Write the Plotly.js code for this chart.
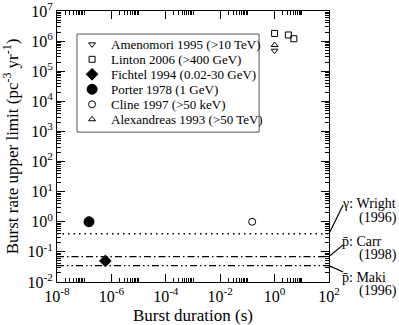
<!DOCTYPE html>
<html>
<head>
<meta charset="utf-8">
<script src="https://cdn.plot.ly/plotly-3.0.1.min.js"></script>
<style>
  html, body { margin: 0; padding: 0; background: #fff; }
  #chart { width: 399px; height: 325px; }
</style>
</head>
<body>
<div id="chart"></div>
<script>
// burst rate limits vs burst duration

const FONT = 'Liberation Serif, Times New Roman, serif';

// point measurements (duration in s, rate in pc^-3 yr^-1)
const amenomoriX = [1];
const amenomoriY = [4.8e5];
const lintonX = [1, 3.2, 5.1];
const lintonY = [1.8e6, 1.6e6, 1.2e6];
const fichtelX = [6e-7];
const fichtelY = [0.05];
const porterX = [1.5e-7];
const porterY = [1];
const clineX = [0.15];
const clineY = [1];
const alexandreasX = [1];
const alexandreasY = [7.4e5];

const sourceNames = [
  'Amenomori 1995 (>10 TeV)',
  'Linton 2006 (>400 GeV)',
  'Fichtel 1994 (0.02-30 GeV)',
  'Porter 1978 (1 GeV)',
  'Cline 1997 (>50 keV)',
  'Alexandreas 1993 (>50 TeV)',
];
const sourceSymbols = ['triangle-down-open', 'square-open', 'diamond', 'circle', 'circle-open', 'triangle-up-open'];
const sourceSizes = [6, 6, 9, 10, 7, 6];

// horizontal limits across the full duration range
const durationRange = [1e-8, 1e2];
const limitNames = ['Wright', 'Carr', 'Maki'];
const limitValues = [0.4, 0.07, 0.035];

// axis ticks (decade exponents)
const xMajorExp = [-8, -6, -4, -2, 0, 2];
const yMajorExp = [-2, -1, 0, 1, 2, 3, 4, 5, 6, 7];

const xMinor = [];
xMajorExp.slice(0, -1).forEach(e => {
  for (let k = 2; k <= 10; k++) xMinor.push(k * Math.pow(10, e));
});
const yMinor = [];
yMajorExp.slice(0, -1).forEach(e => {
  for (let k = 2; k <= 9; k++) yMinor.push(k * Math.pow(10, e));
});

const seriesX = [amenomoriX, lintonX, fichtelX, porterX, clineX, alexandreasX];
const seriesY = [amenomoriY, lintonY, fichtelY, porterY, clineY, alexandreasY];

function markerStyle(i) {
  return { symbol: sourceSymbols[i], size: sourceSizes[i], color: 'black', line: { color: 'black', width: 1 } };
}

const traces = sourceNames.map((name, i) => ({
  x: seriesX[i], y: seriesY[i], name: name, type: 'scatter', mode: 'markers',
  marker: markerStyle(i),
}));

const limitDash = ['1.5px,4px', '7px,3px,1.5px,3px', '7px,3px,1.5px,3px,1.5px,3px'];
limitValues.forEach((v, i) => {
  traces.push({
    x: durationRange, y: [v, v], name: limitNames[i], type: 'scatter', mode: 'lines',
    hoverinfo: 'skip',
    line: { color: 'black', width: 1.3, dash: limitDash[i] },
  });
});

// hand-drawn legend box (plotly's own rows are too tall here)
const legendBox = { x0: 0.0735, x1: 0.743, y0: 0.553, y1: 0.915 };
const legendRowY = sourceNames.map((_, i) => 0.877 - i * 0.0553);
const legendSymX = 0.129;
const legendTextX = 0.196;

sourceNames.forEach((name, i) => {
  traces.push({
    x: [legendSymX], y: [legendRowY[i]], xaxis: 'x2', yaxis: 'y2',
    type: 'scatter', mode: 'markers', hoverinfo: 'skip',
    marker: markerStyle(i),
  });
});

const shapes = [{
  type: 'rect', xref: 'paper', yref: 'paper',
  x0: legendBox.x0, x1: legendBox.x1, y0: legendBox.y0, y1: legendBox.y1,
  line: { color: '#555', width: 1 }, fillcolor: 'rgba(0,0,0,0)',
}];

// leader lines from the limit lines to the side labels
const leaderEnds = [0.284, 0.137, 0.037];
limitValues.forEach((v, i) => {
  shapes.push({
    type: 'line', xref: 'paper', yref: 'paper',
    x0: 1.0, y0: (Math.log10(v) + 2) / 9, x1: 1.052, y1: leaderEnds[i],
    line: { color: 'black', width: 1.2 },
  });
});

const sideLabels = [
  ['\u03b3: Wright', 0.290], ['(1996)', 0.238],
  ['p\u0304: Carr', 0.151], ['(1998)', 0.099],
  ['p\u0304: Maki', 0.018], ['(1996)', -0.034],
];
const annotations = sideLabels.map((s, i) => ({
  text: s[0], xref: 'paper', yref: 'paper',
  x: i % 2 === 0 ? 1.045 : 1.108, y: s[1],
  xanchor: 'left', yanchor: 'middle', showarrow: false, borderpad: 0,
  font: { family: FONT, size: 14, color: 'black' },
}));

sourceNames.forEach((name, i) => {
  annotations.push({
    text: name, xref: 'paper', yref: 'paper', x: legendTextX, y: legendRowY[i],
    xanchor: 'left', yanchor: 'middle', showarrow: false, borderpad: 0,
    font: { family: FONT, size: 13, color: 'black' },
  });
});

const axisBase = {
  type: 'log', showline: true, linecolor: 'black', linewidth: 1,
  mirror: 'allticks', ticks: 'inside', ticklen: 8, tickwidth: 1, tickcolor: 'black',
  showgrid: false, zeroline: false, ticklabeloverflow: 'allow',
  tickfont: { family: FONT, size: 16, color: 'black' },
};

const layout = {
  width: 399, height: 325,
  margin: { l: 57, r: 70, t: 11, b: 43 },
  paper_bgcolor: 'white', plot_bgcolor: 'white',
  font: { family: FONT, color: 'black' },
  showlegend: false,
  xaxis: Object.assign({}, axisBase, {
    range: [-8, 2],
    tickmode: 'array',
    tickvals: xMajorExp.map(e => Math.pow(10, e)),
    ticktext: xMajorExp.map(e => '10<sup>' + e + '</sup>'),
    minor: { tickmode: 'array', tickvals: xMinor, ticks: 'inside', ticklen: 4, tickcolor: 'black' },
    title: { text: 'Burst duration (s)', font: { family: FONT, size: 17, color: 'black' }, standoff: 4 },
  }),
  yaxis: Object.assign({}, axisBase, {
    range: [-2, 7],
    tickmode: 'array',
    tickvals: yMajorExp.map(e => Math.pow(10, e)),
    ticktext: yMajorExp.map(e => '10<sup>' + e + '</sup>'),
    minor: { tickmode: 'array', tickvals: yMinor, ticks: 'inside', ticklen: 4, tickcolor: 'black' },
    title: { text: 'Burst rate upper limit (pc<sup>-3</sup> yr<sup>-1</sup>)', font: { family: FONT, size: 17, color: 'black' }, standoff: 4 },
  }),
  xaxis2: { overlaying: 'x', range: [0, 1], visible: false, fixedrange: true },
  yaxis2: { overlaying: 'y', range: [0, 1], visible: false, fixedrange: true },
  shapes: shapes,
  annotations: annotations,
};

Plotly.newPlot('chart', traces, layout, { displayModeBar: false, staticPlot: true });
</script>
</body>
</html>
